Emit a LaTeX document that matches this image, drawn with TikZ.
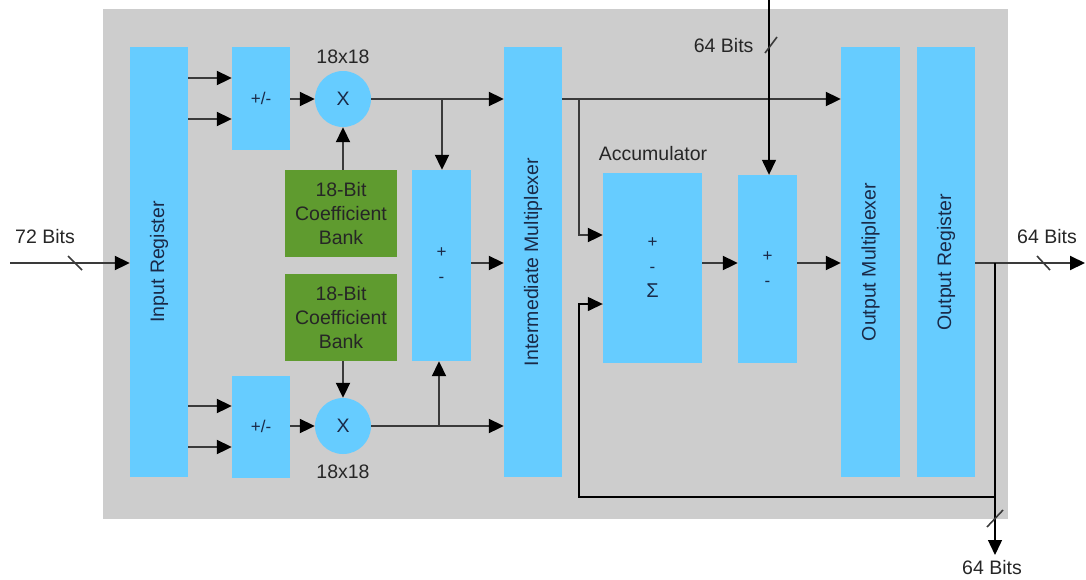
\documentclass[tikz,border=0pt]{standalone}
\usepackage{fontspec}
\setmainfont{Liberation Sans}
\usetikzlibrary{arrows.meta}
\definecolor{bgg}{HTML}{CDCDCD}
\definecolor{blu}{HTML}{66CCFF}
\definecolor{grn}{HTML}{5F9B2F}
\definecolor{navy}{HTML}{1A2A48}
\definecolor{ln}{HTML}{3A3A3A}
\begin{document}
\begin{tikzpicture}[x=1pt,y=-1pt,
  every node/.style={font=\fontsize{19.5}{24}\selectfont},
  blk/.style={fill=blu, inner sep=0pt, text=navy},
  coef/.style={fill=grn, inner sep=0pt, align=center, text=black!85, minimum width=112pt, minimum height=87pt},
  mul/.style={circle, fill=blu, minimum size=56pt, inner sep=0pt, text=navy},
  wire/.style={draw=ln, line width=2pt},
  arr/.style={wire, -{Triangle[length=15pt,width=14pt,color=black]}},
  thinw/.style={draw=black, line width=1.4pt},
  tarr/.style={thinw, -{Triangle[length=15pt,width=14pt]}},
  tick/.style={draw=ln, line width=1.6pt},
  lbl/.style={text=black!85},
  small/.style={font=\fontsize{17}{25}\selectfont, align=center}
]
\useasboundingbox (0,0) rectangle (1086,579);
\fill[bgg] (103,9) rectangle (1008,519);

% rows
\coordinate (r1) at (0,78);
\coordinate (r2) at (0,119);
\coordinate (r3) at (0,406);
\coordinate (r4) at (0,447);
\coordinate (rT) at (0,99);
\coordinate (rM) at (0,263);
\coordinate (rAcc1) at (0,235);
\coordinate (rAcc2) at (0,304);

% blocks
\node[blk, minimum width=58pt, minimum height=430pt] (inreg) at (159,262) {\rotatebox{90}{Input Register}};
\node[blk, minimum width=58pt, minimum height=103pt, font=\fontsize{17}{20}\selectfont] (pmA) at (261,98.5) {+/-};
\node[blk, minimum width=58pt, minimum height=102pt, font=\fontsize{17}{20}\selectfont] (pmB) at (261,426.5) {+/-};
\node[mul] (mulA) at (343,99) {X};
\node[mul] (mulB) at (343,426) {X};
\node[lbl] (szA) at (343,57) {18x18};
\node[lbl] (szB) at (343,472) {18x18};
\node[coef] (coefA) at (341,213.5) {18-Bit\\Coefficient\\Bank};
\node[coef] (coefB) at (341,317.5) {18-Bit\\Coefficient\\Bank};
\node[blk, small, minimum width=59pt, minimum height=191pt] (addA) at (441.5,265.5) {+\\-};
\node[blk, minimum width=58pt, minimum height=430pt] (imux) at (533,262) {\rotatebox{90}{Intermediate Multiplexer}};
\node[blk, small, minimum width=99pt, minimum height=190pt] (acc) at (652.5,268) {+\\-\\{\fontsize{20}{24}\selectfont Σ}};
\node[lbl] (acclbl) at (653,154) {Accumulator};
\node[blk, small, minimum width=59pt, minimum height=188pt] (addB) at (767.5,269) {+\\-};
\node[blk, minimum width=59pt, minimum height=430pt] (omux) at (870.5,262) {\rotatebox{90}{Output Multiplexer}};
\node[blk, minimum width=58pt, minimum height=430pt] (oreg) at (946,262) {\rotatebox{90}{Output Register}};

% free ends
\coordinate (inS) at (10,263);
\coordinate (outE) at (1085,263);
\coordinate (splitO) at (995,263);
\coordinate (fbC) at (995,497);
\coordinate (fbL) at (579,497);
\coordinate (outS) at (995,555);
\coordinate (topIn) at (769,0);
\coordinate (brA) at (442,99);
\coordinate (brB) at (439,426);
\coordinate (brT) at (579,99);

% wires
\draw[arr] (inS) -- (inreg.west |- inS);
\draw[arr] (inreg.east |- r1) -- (pmA.west |- r1);
\draw[arr] (inreg.east |- r2) -- (pmA.west |- r2);
\draw[arr] (inreg.east |- r3) -- (pmB.west |- r3);
\draw[arr] (inreg.east |- r4) -- (pmB.west |- r4);
\draw[arr] (pmA.east |- mulA) -- (mulA.west);
\draw[arr] (pmB.east |- mulB) -- (mulB.west);
\draw[arr] (coefA.north -| mulA) -- (mulA.south);
\draw[arr] (coefB.south -| mulB) -- (mulB.north);
\draw[wire] (mulA.east) -- (brA);
\draw[arr] (brA) -- (imux.west |- mulA);
\draw[arr] (brA) -- (addA.north -| brA);
\draw[wire] (mulB.east) -- (brB);
\draw[arr] (brB) -- (imux.west |- mulB);
\draw[arr] (brB) -- (addA.south -| brB);
\draw[arr] (addA.east |- rM) -- (imux.west |- rM);
\draw[wire] (imux.east |- rT) -- (brT);
\draw[arr] (brT) -- (omux.west |- rT);
\draw[arr] (brT) |- (acc.west |- rAcc1);
\draw[arr] (acc.east |- rM) -- (addB.west |- rM);
\draw[arr] (addB.east |- rM) -- (omux.west |- rM);
\draw[wire] (oreg.east |- rM) -- (splitO);
\draw[arr] (splitO) -- (outE);
\draw[tarr] (topIn) -- (addB.north -| topIn);
\draw[tarr] (splitO) -- (fbC) -- (fbL) |- (acc.west |- rAcc2);
\draw[tarr] (fbC) -- (outS);

% bus ticks
\draw[tick] (68,256) -- (82,270);
\draw[tick] (1037,256) -- (1050,270);
\draw[tick] (765,53) -- (777,37);
\draw[tick] (987,527) -- (1003,510);

% bus labels
\node[lbl] (l72) at (45,237) {72 Bits};
\node[lbl] (l64r) at (1047,237) {64 Bits};
\node[lbl, anchor=east] (l64t) at (757,46) {64 Bits};
\node[lbl] (l64b) at (992,568) {64 Bits};
\end{tikzpicture}
\end{document}
